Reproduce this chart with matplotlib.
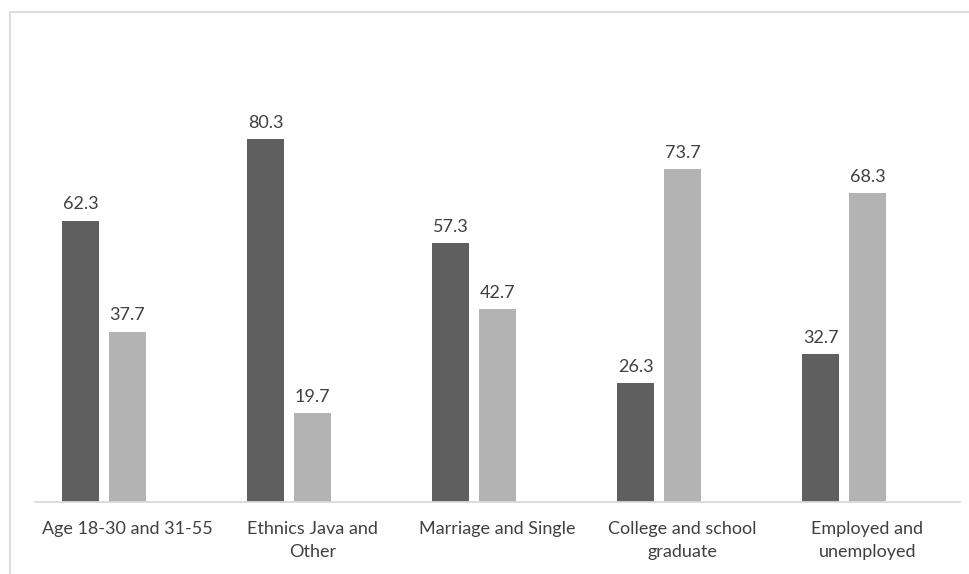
import numpy as np
import matplotlib.pyplot as plt
from matplotlib.patches import Rectangle

categories = ["Age 18-30 and 31-55", "Ethnics Java and\nOther", "Marriage and Single",
              "College and school\ngraduate", "Employed and\nunemployed"]
first_values = [62.3, 80.3, 57.3, 26.3, 32.7]
second_values = [37.7, 19.7, 42.7, 73.7, 68.3]

plt.rcParams['font.family'] = ['Lato', 'DejaVu Sans']

fig = plt.figure(figsize=(9.69, 5.74), dpi=100)
ax = fig.add_axes([0.0361, 0.1254, 0.9546, 0.787])

x = np.arange(len(categories))
step = 0.2534
width = 0.1995
dark = ax.bar(x - step, first_values, width, color='#5f5f5f')
light = ax.bar(x, second_values, width, color='#b3b3b3')

for bars in (dark, light):
    for b in bars:
        ax.annotate(f"{b.get_height():.1f}", (b.get_x() + b.get_width() / 2, b.get_height()),
                    xytext=(0, 6), textcoords='offset points', ha='center', va='bottom',
                    fontsize=13, color='#404040')

ax.set_xlim(-0.5, len(categories) - 0.5)
ax.set_ylim(0, 100)
ax.set_yticks([])
ax.set_xticks(x)
ax.set_xticklabels(categories, fontsize=13, color='#404040', linespacing=1.5)
ax.tick_params(axis='x', length=0, pad=14)
for side in ('top', 'left', 'right'):
    ax.spines[side].set_visible(False)
ax.spines['bottom'].set_color('#d9d9d9')
ax.spines['bottom'].set_linewidth(1.3)

fig.patches.append(Rectangle((10 / 969, -0.2), 1.2, 0.2 + (574 - 12) / 574,
                             transform=fig.transFigure, fill=False,
                             edgecolor='#d9d9d9', linewidth=1.3))

fig.savefig("out.png", dpi=100)
